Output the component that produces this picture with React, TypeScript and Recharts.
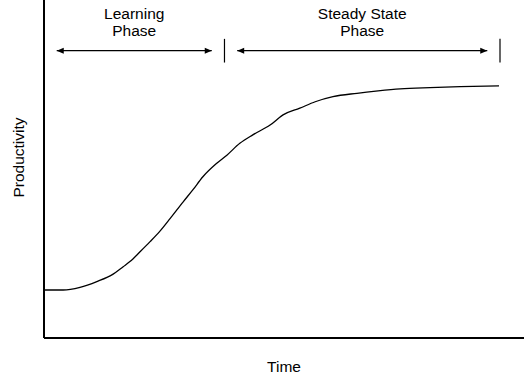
import React from 'react';
import { LineChart, Line, XAxis, YAxis, ReferenceLine, ReferenceDot, Label } from 'recharts';

// Learning curve (time in arbitrary units 0..100, productivity 0..100)
const timePoints = [0, 4, 7.5, 11, 14.4, 16.5, 17.9, 20, 22.1, 24.2, 26.3, 29, 31, 33.1, 36, 38.1, 40.8, 43.5, 47.1, 49.8, 53.3, 56.5, 60.2, 65.2, 69.6, 74.2, 80.4, 86.7, 94.8];
const productivityValues = [14.2, 14.2, 15, 16.7, 18.9, 21.1, 22.6, 25.5, 28.5, 31.7, 35.4, 40.3, 43.8, 47.7, 51.7, 54.1, 57.6, 60.1, 63, 66, 68, 69.9, 71.4, 72.4, 73.1, 73.7, 74.1, 74.4, 74.6];

// Phase annotations
const phaseLabels = [['Learning', 'Phase'], ['Steady State', 'Phase']];
const phaseBounds = [0, 37.6, 95];
const arrowLevel = 85;
const arrowGap = 2.65;
const barHalf = 3.5;

const axisTitles = { x: 'Time', y: 'Productivity' };

const curveData = timePoints.map((t, i) => ({ t, p: productivityValues[i] }));

const FONT = '"Liberation Sans", Arial, sans-serif';
const FONT_SIZE = 15.5;

const renderArrowHead = (props: any) => {
  const { cx, cy, index } = props;
  const dir = index === 0 ? -1 : 1;
  const pts = `${cx},${cy} ${cx - dir * 7},${cy - 3} ${cx - dir * 7},${cy + 3}`;
  return <polygon key={`ah-${index}-${cx}`} points={pts} fill="#000" stroke="none" />;
};

const makeLabelShape = (lines: string[]) => (props: any) => {
  const { cx, cy } = props;
  return (
    <text x={cx} textAnchor="middle" fontFamily={FONT} fontSize={FONT_SIZE} fill="#000">
      <tspan x={cx} y={cy - 32}>{lines[0]}</tspan>
      <tspan x={cx} y={cy - 15}>{lines[1]}</tspan>
    </text>
  );
};

const YTitle = (props: any) => {
  const vb = props.viewBox || { x: 0, y: 0, width: 44, height: 338 };
  const x = vb.x + vb.width * 0.42;
  const y = vb.y + vb.height / 2 - 11.5;
  return (
    <text
      x={x}
      y={y}
      transform={`rotate(-90 ${x} ${y})`}
      textAnchor="middle"
      dominantBaseline="central"
      fontFamily={FONT}
      fontSize={FONT_SIZE}
      fill="#000"
    >
      {axisTitles.y}
    </text>
  );
};

export default function App() {
  const phases = phaseLabels.map((lines, i) => {
    const start = phaseBounds[i];
    const end = phaseBounds[i + 1];
    return {
      lines,
      mid: (start + end) / 2,
      arrow: [
        { t: start + arrowGap, v: arrowLevel },
        { t: end - arrowGap, v: arrowLevel },
      ],
      end,
    };
  });

  return (
    <div style={{ position: 'absolute', left: 0, top: 0, background: '#fff' }}>
      <LineChart width={526} height={388} data={curveData} margin={{ top: 0, right: 2, bottom: 0, left: 0 }}>
        <XAxis
          type="number"
          dataKey="t"
          domain={[0, 100]}
          height={50}
          tick={false}
          tickLine={false}
          axisLine={{ stroke: '#000', strokeWidth: 2 }}
        >
          <Label
            value={axisTitles.x}
            position="insideBottom"
            offset={16}
            fill="#000"
            fontFamily={FONT}
            fontSize={FONT_SIZE}
          />
        </XAxis>
        <YAxis
          type="number"
          domain={[0, 100]}
          width={44}
          tick={false}
          tickLine={false}
          axisLine={{ stroke: '#000', strokeWidth: 2 }}
        >
          <Label content={<YTitle />} />
        </YAxis>
        <Line
          type="monotone"
          dataKey="p"
          stroke="#000"
          strokeWidth={1.3}
          dot={false}
          activeDot={false}
          isAnimationActive={false}
        />
        {phases.map((ph, i) => (
          <Line
            key={`arrow-${i}`}
            data={ph.arrow}
            dataKey="v"
            type="linear"
            stroke="#000"
            strokeWidth={1.2}
            dot={renderArrowHead}
            activeDot={false}
            isAnimationActive={false}
          />
        ))}
        {phases.map((ph, i) => (
          <ReferenceLine
            key={`bar-${i}`}
            segment={[
              { x: ph.end, y: arrowLevel - barHalf },
              { x: ph.end, y: arrowLevel + barHalf },
            ]}
            stroke="#000"
            strokeWidth={1.2}
          />
        ))}
        {phases.map((ph, i) => (
          <ReferenceDot
            key={`lbl-${i}`}
            x={ph.mid}
            y={arrowLevel}
            r={0}
            shape={makeLabelShape(ph.lines)}
          />
        ))}
      </LineChart>
    </div>
  );
}
